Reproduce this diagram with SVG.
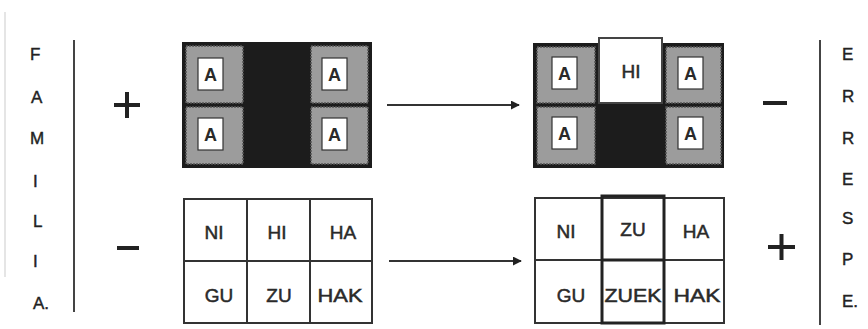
<svg xmlns="http://www.w3.org/2000/svg" width="868" height="329" viewBox="0 0 868 329">
<defs>
<linearGradient id="topg" x1="0" y1="0" x2="1" y2="0">
<stop offset="0" stop-color="#f0f0f0"/>
<stop offset="0.5" stop-color="#b0b0b0"/>
<stop offset="1" stop-color="#555"/>
</linearGradient>
<marker id="ah" viewBox="0 0 10 10" refX="9" refY="5" markerWidth="9" markerHeight="9" markerUnits="userSpaceOnUse" orient="auto">
<path d="M0,0 L10,5 L0,10 z" fill="#222"/>
</marker>
</defs>
<style>
.side{font-family:"Liberation Sans","DejaVu Sans",sans-serif;font-size:17px;fill:#222;stroke:#222;stroke-width:0.4}
.cell{font-family:"Liberation Sans","DejaVu Sans",sans-serif;font-size:19px;fill:#2a2a2a;stroke:#2a2a2a;stroke-width:0.5;text-anchor:middle}
.a{font-family:"Liberation Sans","DejaVu Sans",sans-serif;font-size:18px;fill:#2a2a2a;text-anchor:middle;font-weight:bold}
.frame{fill:#1c1c1c}
.gray{fill:#9c9c9c;stroke:#555;stroke-width:1.5;stroke-dasharray:2 1}
.abox{fill:#fff;stroke:#333;stroke-width:1.2}
.wcell{fill:#fff;stroke:#333;stroke-width:2}
.thick{fill:none;stroke:#222;stroke-width:3}
.sign{stroke:#222;stroke-width:4;fill:none}
.vline{stroke:#444;stroke-width:2}
.conn{stroke:#333;stroke-width:2;fill:none}
</style>
<line x1="40" y1="12" x2="868" y2="12" stroke="url(#topg)" stroke-width="2"/>
<line x1="5" y1="12" x2="5" y2="277" stroke="#ddd" stroke-width="1.5"/>

<g id="familia">
<text class="side" x="30" y="60">F</text>
<text class="side" x="31" y="103">A</text>
<text class="side" x="30" y="144">M</text>
<text class="side" x="33" y="187">I</text>
<text class="side" x="33" y="227">L</text>
<text class="side" x="33" y="267">I</text>
<text class="side" x="33" y="309">A.</text>
<line class="vline" x1="74" y1="40" x2="74" y2="312"/>
</g>

<g id="erresp">
<line class="vline" x1="820" y1="40" x2="820" y2="325"/>
<text class="side" x="842" y="60">E</text>
<text class="side" x="842" y="102">R</text>
<text class="side" x="842" y="144">R</text>
<text class="side" x="842" y="185">E</text>
<text class="side" x="842" y="224">S</text>
<text class="side" x="842" y="265">P</text>
<text class="side" x="842" y="307">E.</text>
</g>

<g id="plus-left"><path class="sign" d="M114,105 H140 M127,92 V118"/></g>
<g id="minus-left"><path class="sign" d="M117,248 H139"/></g>
<g id="minus-right"><path class="sign" d="M763,103 H787"/></g>
<g id="plus-right"><path class="sign" d="M768,247 H795 M781.5,234 V260"/></g>

<g id="grid-top-left">
<rect class="frame" x="182" y="42" width="190" height="126"/>
<rect class="gray" x="186" y="46" width="57" height="57"/>
<rect class="gray" x="186" y="107" width="57" height="57"/>
<rect class="gray" x="311" y="46" width="57" height="57"/>
<rect class="gray" x="311" y="107" width="57" height="57"/>
<rect class="abox" x="198" y="58" width="25" height="32"/>
<rect class="abox" x="198" y="118" width="25" height="32"/>
<rect class="abox" x="322" y="58" width="25" height="32"/>
<rect class="abox" x="322" y="118" width="25" height="32"/>
<text class="a" x="210.5" y="81">A</text>
<text class="a" x="210.5" y="141">A</text>
<text class="a" x="334.5" y="81">A</text>
<text class="a" x="334.5" y="141">A</text>
</g>

<g id="grid-top-right">
<rect class="frame" x="533" y="43" width="191" height="125"/>
<rect class="gray" x="537" y="47" width="58" height="56"/>
<rect class="gray" x="537" y="107" width="58" height="57"/>
<rect class="gray" x="666" y="47" width="55" height="56"/>
<rect class="gray" x="666" y="107" width="55" height="57"/>
<rect x="599" y="38" width="63" height="65" fill="#fff" stroke="#444" stroke-width="2"/>
<rect class="abox" x="552" y="57" width="25" height="32"/>
<rect class="abox" x="552" y="117" width="25" height="32"/>
<rect class="abox" x="678" y="57" width="25" height="32"/>
<rect class="abox" x="678" y="117" width="25" height="32"/>
<text class="a" x="564.5" y="80">A</text>
<text class="a" x="564.5" y="140">A</text>
<text class="a" x="690.5" y="80">A</text>
<text class="a" x="690.5" y="140">A</text>
<text class="cell" x="631" y="78">HI</text>
</g>

<g id="grid-bottom-left">
<rect class="wcell" x="184" y="199" width="188" height="124"/>
<line x1="247" y1="199" x2="247" y2="323" stroke="#333" stroke-width="2"/>
<line x1="310" y1="199" x2="310" y2="323" stroke="#333" stroke-width="2"/>
<line x1="184" y1="261" x2="372" y2="261" stroke="#333" stroke-width="2"/>
<text class="cell" x="214" y="239">NI</text>
<text class="cell" x="277" y="239">HI</text>
<text class="cell" x="343" y="239">HA</text>
<text class="cell" x="219" y="302">GU</text>
<text class="cell" x="279" y="302">ZU</text>
<text class="cell" x="340" y="302" textLength="45" lengthAdjust="spacingAndGlyphs">HAK</text>
</g>

<g id="grid-bottom-right">
<rect class="wcell" x="535" y="198" width="189" height="125"/>
<line x1="535" y1="260" x2="724" y2="260" stroke="#333" stroke-width="2"/>
<rect class="thick" x="602" y="196" width="62" height="127"/>
<line x1="602" y1="260" x2="664" y2="260" stroke="#222" stroke-width="3"/>
<text class="cell" x="566" y="238">NI</text>
<text class="cell" x="633" y="236">ZU</text>
<text class="cell" x="696" y="238">HA</text>
<text class="cell" x="571" y="302">GU</text>
<text class="cell" x="633" y="302" textLength="57" lengthAdjust="spacingAndGlyphs">ZUEK</text>
<text class="cell" x="697" y="302" textLength="47" lengthAdjust="spacingAndGlyphs">HAK</text>
</g>

<g id="connectors">
<line class="conn" x1="387" y1="105" x2="519" y2="105" marker-end="url(#ah)"/>
<line class="conn" x1="389" y1="261" x2="521" y2="261" marker-end="url(#ah)"/>
</g>
</svg>
